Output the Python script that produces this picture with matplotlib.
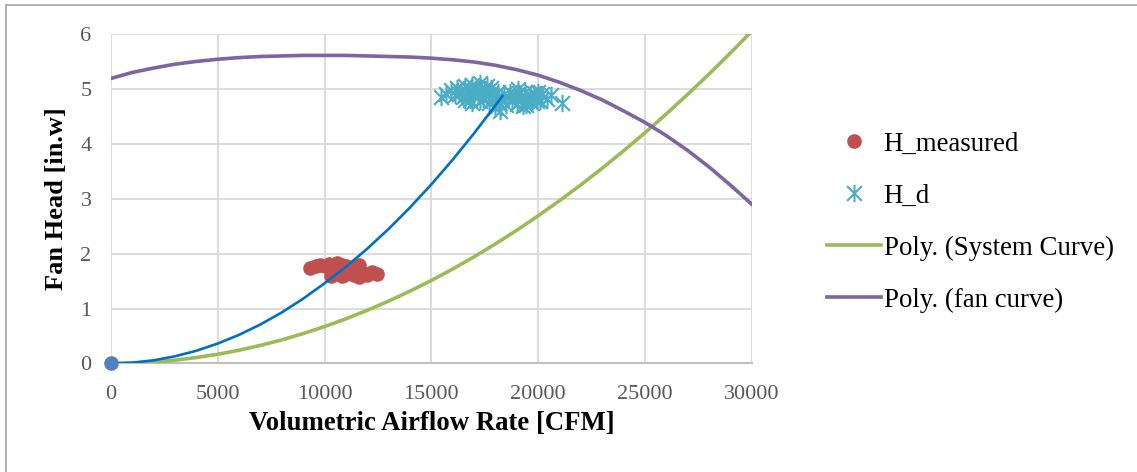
import numpy as np
import matplotlib
matplotlib.use("Agg")
import matplotlib.pyplot as plt
from matplotlib.path import Path
from matplotlib.lines import Line2D

plt.rcParams['font.family'] = ['Liberation Serif', 'DejaVu Serif']

# measured fan head (red circles)
h_measured_x = [9300, 9600, 9800, 10000, 10200, 10400, 10600, 10800, 11000, 10300,
                10500, 10700, 10900, 11100, 11300, 11500, 11600, 11400, 11600, 11800,
                12000, 12200, 12450, 11000, 10800]
h_measured_y = [1.74, 1.77, 1.80, 1.78, 1.82, 1.79, 1.83, 1.80, 1.78, 1.60,
                1.65, 1.68, 1.62, 1.66, 1.70, 1.75, 1.80, 1.62, 1.58, 1.65,
                1.62, 1.67, 1.63, 1.72, 1.60]

# design head (cyan stars)
h_d_x = [15450, 15700, 15900, 16100, 16200, 16400, 16500, 16600, 16700, 16800,
         16900, 17000, 17100, 17200, 17300, 17400, 17500, 17600, 17700, 17800,
         17900, 18000, 18100, 18200, 18300, 18400, 18500, 18600, 18700, 18800,
         18900, 19000, 19100, 19200, 19300, 19400, 19500, 19600, 19700, 19800,
         19900, 20000, 20100, 20200, 20400, 20600, 21100, 16300, 16800, 17200,
         17500, 17800, 17300, 16900, 18050, 18150, 19050, 19450, 19950, 17650,
         17000, 16600]
h_d_y = [4.86, 4.90, 4.98, 4.88, 5.02, 4.95, 4.85, 5.05, 4.92, 4.98,
         5.08, 4.88, 5.00, 4.95, 5.10, 4.82, 4.98, 5.05, 4.75, 4.92,
         4.85, 4.65, 4.95, 4.60, 4.80, 4.90, 4.70, 4.85, 4.95, 4.78,
         4.88, 4.72, 4.92, 4.82, 4.68, 4.95, 4.80, 4.88, 4.74, 4.92,
         4.85, 4.95, 4.78, 4.90, 4.82, 4.88, 4.74, 4.90, 4.80, 4.88,
         5.00, 5.02, 4.78, 4.75, 4.82, 4.72, 5.00, 4.70, 4.78, 4.90,
         4.95, 4.80]

# origin point
origin_x = [0]
origin_y = [0]

# blue curve
blue_x = [0, 1000, 2000, 3000, 4000, 5000, 6000, 7000, 8000, 9000, 10000,
          11000, 12000, 13000, 14000, 15000, 16000, 17000, 18000, 18330]
blue_y = [0, 0.015, 0.058, 0.131, 0.232, 0.363, 0.522, 0.711, 0.93, 1.18, 1.46,
          1.76, 2.09, 2.45, 2.84, 3.26, 3.71, 4.19, 4.70, 4.87]

# Poly. (System Curve) and Poly. (fan curve), read every 1000 CFM
curve_x = [0, 1000, 2000, 3000, 4000, 5000, 6000, 7000, 8000, 9000, 10000,
           11000, 12000, 13000, 14000, 15000, 16000, 17000, 18000, 19000, 20000,
           21000, 22000, 23000, 24000, 25000, 26000, 27000, 28000, 29000, 30000]
sys_y = [0, 0.007, 0.027, 0.060, 0.108, 0.168, 0.242, 0.329, 0.430, 0.544, 0.672,
         0.813, 0.968, 1.136, 1.317, 1.512, 1.720, 1.942, 2.177, 2.426, 2.688,
         2.964, 3.252, 3.555, 3.871, 4.200, 4.543, 4.899, 5.268, 5.652, 6.048]
fan_y = [5.19, 5.30, 5.38, 5.45, 5.50, 5.54, 5.57, 5.59, 5.60, 5.61, 5.61,
         5.61, 5.60, 5.59, 5.58, 5.56, 5.53, 5.49, 5.43, 5.35, 5.25,
         5.12, 4.97, 4.80, 4.60, 4.39, 4.15, 3.88, 3.58, 3.25, 2.90]

xticks = [0, 5000, 10000, 15000, 20000, 25000, 30000]
yticks = [0, 1, 2, 3, 4, 5, 6]

# excel style star marker: X plus vertical bar
star = Path([(0, -1), (0, 1), (-0.85, -0.85), (0.85, 0.85), (-0.85, 0.85), (0.85, -0.85)],
            [Path.MOVETO, Path.LINETO, Path.MOVETO, Path.LINETO, Path.MOVETO, Path.LINETO])

fig = plt.figure(figsize=(11.37, 4.72), dpi=100)
ax = fig.add_axes([0.0976, 0.2299, 0.5635, 0.6981])

ax.plot(curve_x, sys_y, color="#9BBB59", lw=2.6, label="Poly. (System Curve)", zorder=3)
ax.plot(curve_x, fan_y, color="#8064A2", lw=2.6, label="Poly. (fan curve)", zorder=3)
ax.plot(h_measured_x, h_measured_y, "o", color="#C0504D", ms=9.5, mec="#C0504D",
        label="H_measured", zorder=4)
ax.plot(h_d_x, h_d_y, linestyle="none", marker=star, ms=12.5, mec="#4BACC6", mfc="none",
        mew=1.5, label="H_d", zorder=4)
ax.plot(blue_x, blue_y, color="#0070C0", lw=1.9, zorder=5)
ax.plot(origin_x, origin_y, "o", color="#4F81BD", ms=9.5, clip_on=False, zorder=6)

ax.set_xlim(0, 30000)
ax.set_ylim(0, 6)
ax.set_xticks(xticks)
ax.set_yticks(yticks)
ax.grid(True, color="#D9D9D9", lw=1.3)
ax.set_axisbelow(True)
for s in ["top", "right", "left"]:
    ax.spines[s].set_visible(False)
ax.spines["bottom"].set_color("#BFBFBF")
ax.spines["bottom"].set_linewidth(1.5)
ax.tick_params(length=0, labelsize=16, labelcolor="#595959")
ax.tick_params(axis="x", pad=15.5)
ax.tick_params(axis="y", pad=14)

ax.set_xlabel("Volumetric Airflow Rate [CFM]", fontsize=19.3, fontweight="bold", labelpad=5)
ax.set_ylabel("Fan Head [in.w]", fontsize=19, fontweight="bold", labelpad=9)

handles, labels = ax.get_legend_handles_labels()
order = [2, 3, 0, 1]
leg = fig.legend([handles[i] for i in order], [labels[i] for i in order],
                 loc="upper left", bbox_to_anchor=(0.7155, 0.750), frameon=False,
                 fontsize=19.4, handlelength=2.0, handletextpad=0.1, labelspacing=1.0,
                 borderpad=0)

# outer chart border
fig.add_artist(Line2D([6 / 1137, 1], [1 - 5 / 472, 1 - 5 / 472], color="#A6A6A6", lw=1.2))
fig.add_artist(Line2D([6 / 1137, 6 / 1137], [0, 1 - 5 / 472], color="#A6A6A6", lw=1.2))

plt.savefig("out.png", dpi=100)
